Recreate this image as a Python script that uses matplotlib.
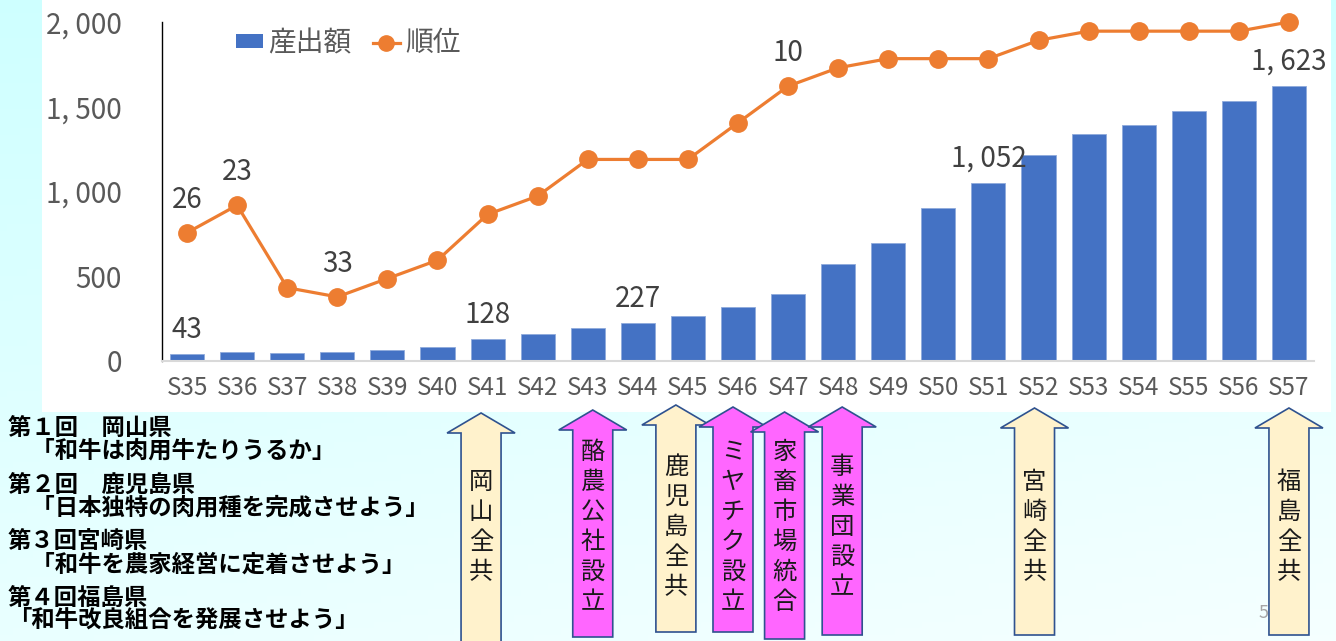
import numpy as np
import matplotlib.pyplot as plt
from matplotlib.patches import Polygon, Rectangle
from matplotlib.lines import Line2D

plt.rcParams['font.family'] = ['Noto Sans CJK JP', 'DejaVu Sans']

# 年次ごとの産出額と全国順位
years = ['S35', 'S36', 'S37', 'S38', 'S39', 'S40', 'S41', 'S42', 'S43', 'S44', 'S45', 'S46',
         'S47', 'S48', 'S49', 'S50', 'S51', 'S52', 'S53', 'S54', 'S55', 'S56', 'S57']
output = [43, 56, 49, 51, 62, 84, 128, 157, 195, 227, 265, 316,
          395, 572, 696, 903, 1052, 1213, 1341, 1390, 1473, 1534, 1623]
rank = [26, 23, 32, 33, 31, 29, 24, 22, 18, 18, 18, 14,
        10, 8, 7, 7, 7, 5, 4, 4, 4, 4, 3]
output_labeled = ['S35', 'S41', 'S44', 'S51', 'S57']
rank_labeled = ['S35', 'S36', 'S38', 'S47']
yticks = [0, 500, 1000, 1500, 2000]

# 出来事（矢印）
events = ['岡山全共', '酪農公社設立', '鹿児島全共', 'ミヤチク設立', '家畜市場統合', '事業団設立', '宮崎全共', '福島全共']
event_years = ['S41', 'S43', 'S45', 'S46', 'S47', 'S48', 'S52', 'S57']

notes = ['第１回　岡山県', '　「和牛は肉用牛たりうるか」',
         '第２回　鹿児島県', '　「日本独特の肉用種を完成させよう」',
         '第３回宮崎県', '　「和牛を農家経営に定着させよう」',
         '第４回福島県', '「和牛改良組合を発展させよう」']

W, H = 1336, 641
fig = plt.figure(figsize=(W / 100, H / 100), dpi=100)

# 背景（水色のグラデーション）
bg = fig.add_axes([0, 0, 1, 1], zorder=-10)
gx, gy = np.meshgrid(np.linspace(0, 1, 200), np.linspace(0, 1, 100))
s = 0.19 * (1 - 0.55 * gy) * (1 - 0.55 * gx * gy)
img = np.dstack([1 - s, np.ones_like(s), np.ones_like(s)])
bg.imshow(img, extent=(0, W, H, 0), aspect='auto')
bg.add_patch(Rectangle((42, 0), 1289, 412, facecolor='white', edgecolor='none'))
bg.set_xlim(0, W)
bg.set_ylim(H, 0)
bg.axis('off')

ax = fig.add_axes([162 / W, 1 - 361 / H, (1314 - 162) / W, (361 - 22) / H])
ax.set_facecolor('none')
x = np.arange(len(years))
ax.bar(x, output, width=0.68, color='#4472C4', edgecolor='#8FAADC', linewidth=0.6, zorder=2)
ax.set_xlim(-0.5, len(years) - 0.5)
ax.set_ylim(0, 2000)
ax.set_xticks(x)
ax.set_xticklabels(years)
ax.set_yticks(yticks)
ax.set_yticklabels([f'{v:,}'.replace(',', ', ') for v in yticks])
ax.tick_params(axis='y', length=0, pad=29, labelsize=20, labelcolor='#595959')
ax.tick_params(axis='x', length=0, pad=10, labelsize=17.5, labelcolor='#595959')
for sp in ['top', 'right']:
    ax.spines[sp].set_visible(False)
ax.spines['left'].set_color('black')
ax.spines['left'].set_linewidth(1)
ax.spines['bottom'].set_color('#D9D9D9')
ax.spines['bottom'].set_linewidth(1.5)

for yr in output_labeled:
    i = years.index(yr)
    ax.annotate(f'{output[i]:,}'.replace(',', ', '), (i, output[i]), xytext=(0, 11.5),
                textcoords='offset points', ha='center', va='baseline',
                fontsize=20, color='#404040')

ax2 = ax.twinx()
ax2.set_ylim(40, 3)
ax2.axis('off')
ax2.plot(x, rank, color='#ED7D31', lw=2.3, marker='o', ms=12.5, clip_on=False, zorder=3)
for yr in rank_labeled:
    i = years.index(yr)
    ax2.annotate(str(rank[i]), (i, rank[i]), xytext=(0, 18),
                 textcoords='offset points', ha='center', va='baseline',
                 fontsize=20, color='#404040')

handles = [Rectangle((0, 0), 1, 1, facecolor='#4472C4'),
           Line2D([], [], color='#ED7D31', lw=2.3, marker='o', ms=11)]
fig.legend(handles, ['産出額', '順位'], loc='upper left', bbox_to_anchor=(236 / W, 1 - 28 / H),
           frameon=False, fontsize=20, labelcolor='#595959', ncol=2,
           handlelength=0.97, handleheight=0.4, handletextpad=0.2, columnspacing=0.75,
           borderaxespad=0, borderpad=0)

# 下段：矢印と説明文
ov = fig.add_axes([0, 0, 1, 1], zorder=5)
ov.set_xlim(0, W)
ov.set_ylim(H, 0)
ov.axis('off')

nudges = [-0.13, 0.1, -0.24, -0.1, -0.07, 0.08, -0.08, 0.0]
tips = [413, 410, 405, 407, 412, 407, 408, 408]
bottoms = [660, 637, 632, 632, 639, 635, 635, 635]
fig.canvas.draw()
for ev, yr, dx, top, bot in zip(events, event_years, nudges, tips, bottoms):
    cx = ax.transData.transform((years.index(yr) + dx, 0))[0]
    fc = '#FFF2CC' if ev.endswith('全共') else '#FF66FF'
    verts = [(cx, top), (cx + 34, top + 20), (cx + 20, top + 20), (cx + 20, bot),
             (cx - 20, bot), (cx - 20, top + 20), (cx - 34, top + 20)]
    ov.add_patch(Polygon(verts, closed=True, facecolor=fc, edgecolor='#2F528F', lw=1.2))
    n = len(ev)
    for k, ch in enumerate(ev):
        ov.text(cx, 527 + (k - (n - 1) / 2) * 30, ch, ha='center', va='center',
                fontsize=17.5, color='#1A1A1A')

note_y = [428, 451, 485, 508, 541, 565, 598, 620]
for line, ny in zip(notes, note_y):
    ov.text(8, ny, line, ha='left', va='center', fontsize=16.8, fontweight='bold', color='black')

ov.text(1264, 613, '5', ha='center', va='center', fontsize=13, color='#A6A6A6')

fig.savefig('out.png', dpi=100)
